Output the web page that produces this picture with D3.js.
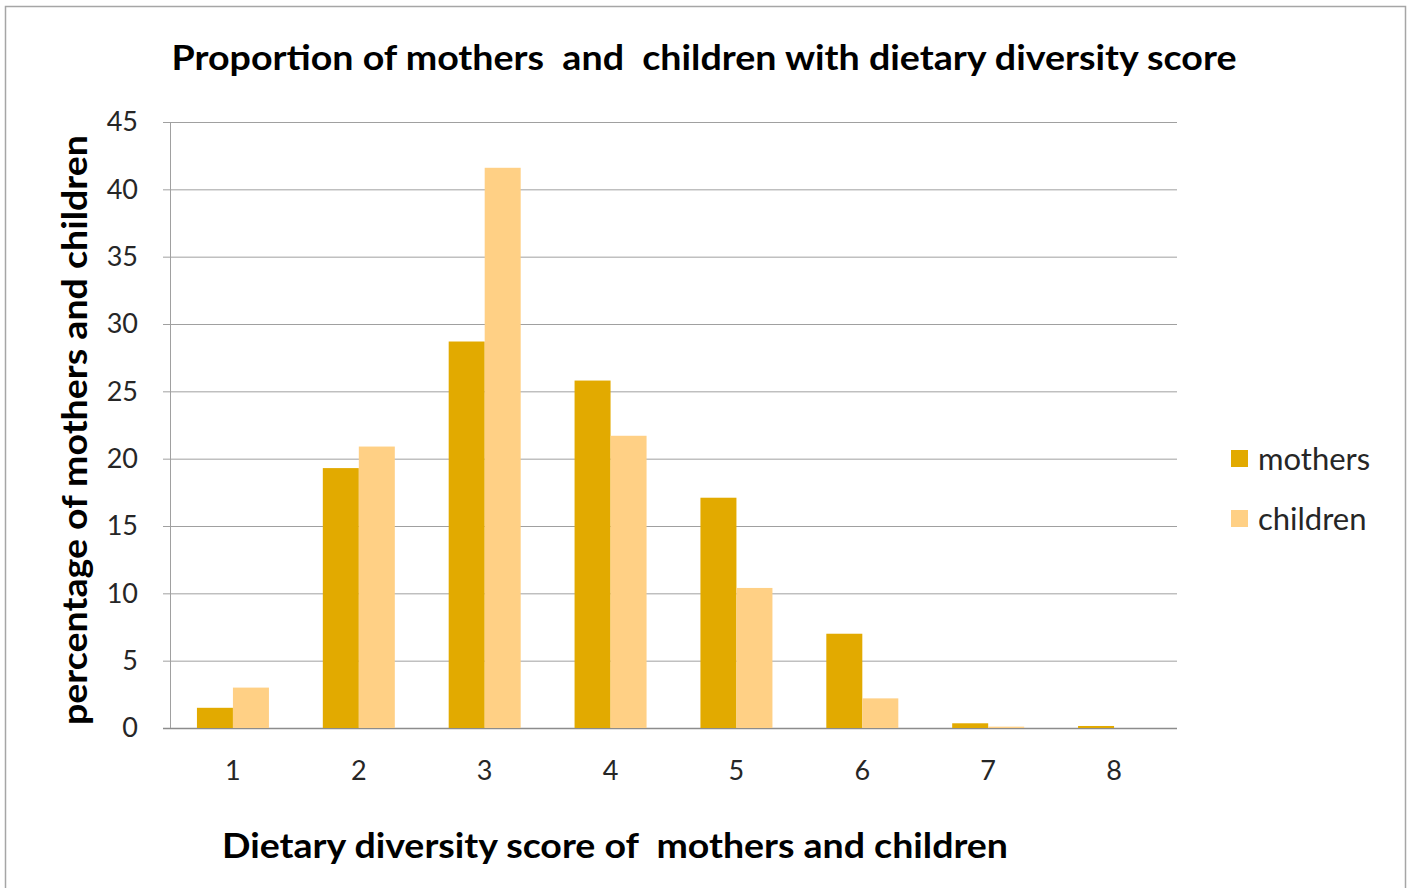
<!DOCTYPE html>
<html><head><meta charset="utf-8">
<script src="https://cdn.jsdelivr.net/npm/d3@7"></script>
<style>body{margin:0;background:#fff;} svg{display:block;}</style>
</head><body>
<script>
const categories = ["1","2","3","4","5","6","7","8"];
const seriesNames = ["mothers","children"];
const mothers = [1.5, 19.3, 28.7, 25.8, 17.1, 7.0, 0.35, 0.15];
const children = [3.0, 20.9, 41.6, 21.7, 10.4, 2.2, 0.1, 0.0];
const yTicks = [0,5,10,15,20,25,30,35,40,45];
const colors = {mothers:"#E2AA00", children:"#FFD085"};

const W=1414,H=888;
const font = "Lato, 'Open Sans', sans-serif";
const svg = d3.select("body").append("svg").attr("width",W).attr("height",H);
svg.append("rect").attr("x",5.5).attr("y",6.5).attr("width",1400).attr("height",900)
  .attr("fill","#fff").attr("stroke","#A6A6A6").attr("stroke-width",1.5);

const m={l:170,r:1177,t:122,b:728};
const x = d3.scaleBand().domain(categories).range([m.l,m.r]).padding(0);
const xs = d3.scaleBand().domain(seriesNames).range([x.step()*0.214, x.step()*0.786]).padding(0);
const y = d3.scaleLinear().domain([0,45]).range([m.b,m.t]);

// grid
svg.append("g").selectAll("line").data(yTicks).join("line")
  .attr("x1",m.l-7).attr("x2",m.r).attr("y1",d=>y(d)+0.5).attr("y2",d=>y(d)+0.5)
  .attr("stroke",d=>d===0?"#8C8C8C":"#A0A0A0").attr("stroke-width",d=>d===0?1.5:1);
svg.append("line").attr("x1",m.l+0.5).attr("x2",m.l+0.5).attr("y1",m.t).attr("y2",m.b)
  .attr("stroke","#A0A0A0");

// y tick labels
svg.append("g").selectAll("text").data(yTicks).join("text")
  .attr("x",m.l-32).attr("y",d=>y(d)).attr("dy","0.35em").attr("text-anchor","end")
  .attr("font-family",font).attr("font-size",27).attr("fill","#262626").text(d=>d);

// bars
const data = categories.map((c,i)=>({c, mothers:mothers[i], children:children[i]}));
const g = svg.append("g");
seriesNames.forEach(s=>{
  g.selectAll("rect."+s).data(data).join("rect").attr("class",s)
   .attr("x",d=>x(d.c)+xs(s)).attr("width",xs.bandwidth())
   .attr("y",d=>y(d[s])).attr("height",d=>y(0)-y(d[s]))
   .attr("fill",colors[s]);
});

// x labels
svg.append("g").selectAll("text").data(categories).join("text")
  .attr("x",d=>x(d)+x.bandwidth()/2).attr("y",780).attr("text-anchor","middle")
  .attr("font-family",font).attr("font-size",27).attr("fill","#262626").text(d=>d);

// title
svg.append("text").attr("x",704).attr("y",70).attr("text-anchor","middle")
  .attr("font-family",font).attr("font-weight","bold").attr("font-size",34).attr("fill","#000")
  .attr("textLength",1065).attr("lengthAdjust","spacingAndGlyphs")
  .style("white-space","pre")
  .text("Proportion of mothers  and  children with dietary diversity score");

// x axis title
svg.append("text").attr("x",615).attr("y",858).attr("text-anchor","middle")
  .attr("font-family",font).attr("font-weight","bold").attr("font-size",34).attr("fill","#000")
  .attr("textLength",786).attr("lengthAdjust","spacingAndGlyphs")
  .style("white-space","pre")
  .text("Dietary diversity score of  mothers and children");

// y axis title
svg.append("text").attr("transform","translate(87,430) rotate(-90)").attr("text-anchor","middle")
  .attr("font-family",font).attr("font-weight","bold").attr("font-size",34).attr("fill","#000")
  .attr("textLength",590).attr("lengthAdjust","spacingAndGlyphs")
  .text("percentage of mothers and children");

// legend
const leg = svg.append("g");
seriesNames.forEach((s,i)=>{
  const yy = 450 + i*60;
  leg.append("rect").attr("x",1231).attr("y",yy).attr("width",17).attr("height",17).attr("fill",colors[s]);
  leg.append("text").attr("x",1258).attr("y",yy+9).attr("dy","0.35em")
    .attr("font-family",font).attr("font-size",31).attr("fill","#262626").text(s);
});
</script>
</body></html>
